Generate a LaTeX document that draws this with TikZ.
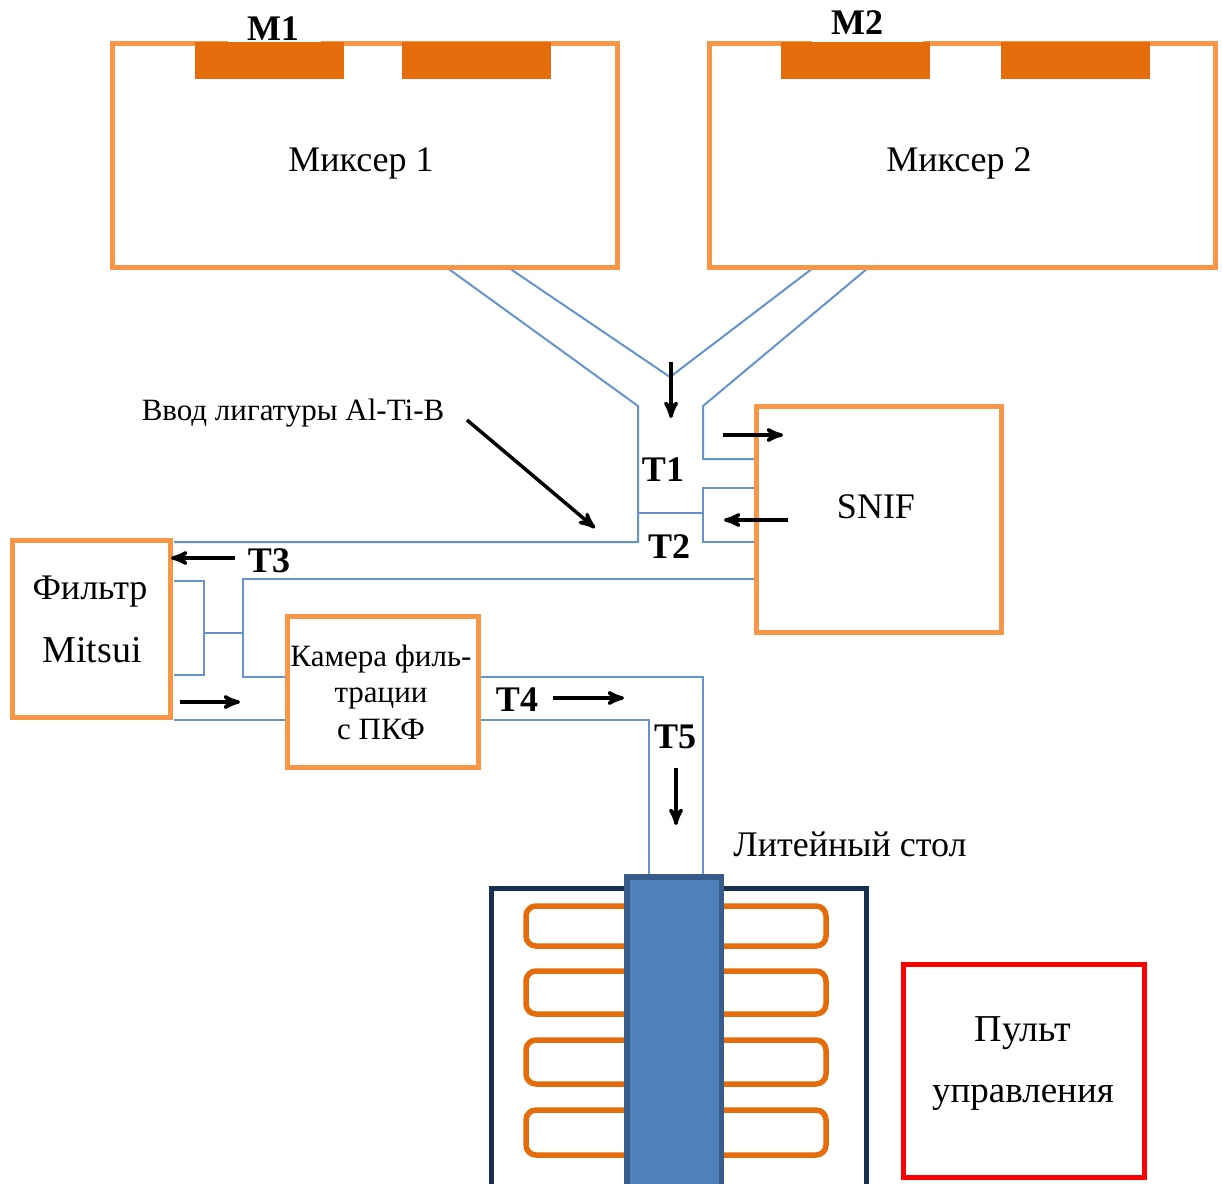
\documentclass[tikz,border=0pt]{standalone}
\usepackage{fontspec}
\usepackage{xcolor}
\setmainfont{Liberation Serif}
\usetikzlibrary{arrows,shapes}

\definecolor{boxorange}{HTML}{F79646}
\definecolor{padorange}{HTML}{E46C0A}
\definecolor{pipeblue}{HTML}{6593CD}
\definecolor{darknavy}{HTML}{17304F}
\definecolor{columnblue}{HTML}{4F81BD}
\definecolor{columnedge}{HTML}{385D8A}

\tikzset{
    box/.style={draw=boxorange, line width=2.5pt, inner sep=0pt, outer sep=0pt},
    pad/.style={fill=padorange, inner sep=0pt, outer sep=0pt, minimum width=74.5pt, minimum height=18.5pt, anchor=north west},
    mask/.style={fill=white, inner sep=0pt, outer sep=0pt, minimum height=3pt},
    coil/.style={draw=padorange, line width=2.75pt, rounded corners=5pt, inner sep=0pt, outer sep=0pt, minimum width=150pt},
    pipe/.style={draw=pipeblue, line width=1pt},
    flow/.style={-stealth', line width=1.75pt, black},
    txt/.style={font=\fontsize{18}{20}\selectfont, inner sep=0pt},
    large/.style={font=\fontsize{19}{20}\selectfont, inner sep=0pt},
    small/.style={font=\fontsize{15.5}{18}\selectfont, inner sep=0pt},
    tag/.style={font=\fontsize{18}{20}\selectfont\bfseries, inner sep=0pt}
}

\begin{document}
\begin{tikzpicture}[x=0.5pt, y=-0.5pt]
    \clip (0,0) rectangle (1222,1184);

    % pipes
    \coordinate (a1) at (446,267);
    \coordinate (a2) at (638,406);
    \coordinate (a3) at (638,542);
    \coordinate (a4) at (174,542);
    \coordinate (b1) at (509,268);
    \coordinate (b2) at (670,377);
    \coordinate (b3) at (813,268);
    \coordinate (c1) at (868,268);
    \coordinate (c2) at (703,406);
    \coordinate (c3) at (703,459);
    \coordinate (c4) at (755,459);
    \coordinate (d1) at (755,488);
    \coordinate (d2) at (703,488);
    \coordinate (d3) at (703,542);
    \coordinate (d4) at (755,542);
    \coordinate (e1) at (638,513);
    \coordinate (e2) at (703,513);
    \coordinate (f1) at (755,579);
    \coordinate (f2) at (243,579);
    \coordinate (f3) at (243,677);
    \coordinate (f4) at (285,677);
    \coordinate (g1) at (174,581);
    \coordinate (g2) at (204,581);
    \coordinate (g3) at (204,675);
    \coordinate (g4) at (174,675);
    \coordinate (h1) at (204,633);
    \coordinate (h2) at (243,633);
    \coordinate (i1) at (174,720);
    \coordinate (i2) at (285,720);
    \coordinate (j1) at (481,677);
    \coordinate (j2) at (703,677);
    \coordinate (j3) at (703,878);
    \coordinate (k1) at (481,720);
    \coordinate (k2) at (649,720);
    \coordinate (k3) at (649,878);

    \draw[pipe] (a1) -- (a2) -- (a3) -- (a4);
    \draw[pipe] (b1) -- (b2) -- (b3);
    \draw[pipe] (c1) -- (c2) -- (c3) -- (c4);
    \draw[pipe] (d1) -- (d2) -- (d3) -- (d4);
    \draw[pipe] (e1) -- (e2);
    \draw[pipe] (f1) -- (f2) -- (f3) -- (f4);
    \draw[pipe] (g1) -- (g2) -- (g3) -- (g4);
    \draw[pipe] (h1) -- (h2);
    \draw[pipe] (i1) -- (i2);
    \draw[pipe] (j1) -- (j2) -- (j3);
    \draw[pipe] (k1) -- (k2) -- (k3);

    % units
    \node[box, minimum width=252.5pt, minimum height=112pt] (mix1) at (364.5,155) {};
    \node[box, minimum width=252.75pt, minimum height=112pt] (mix2) at (962.5,155) {};
    \node[box, minimum width=122.5pt, minimum height=113pt] (snif) at (878.5,519.5) {};
    \node[box, minimum width=79.25pt, minimum height=88.75pt] (filter) at (91.5,629) {};
    \node[box, minimum width=95.5pt, minimum height=75.5pt] (chamber) at (382.5,691.5) {};
    \node[box, draw=red, minimum width=120.5pt, minimum height=106.5pt] (panel) at (1023.5,1071) {};

    % casting table
    \node[draw=darknavy, line width=2.75pt, inner sep=0pt, outer sep=0pt, minimum width=187.5pt, minimum height=170pt, anchor=north west] (table) at (491.5,888.5) {};
    \foreach \ytop/\hgt/\name in {906/20/c1, 971/21.5/c2, 1040/22/c3, 1110/22.5/c4} {
        \node[coil, minimum height=\hgt pt, anchor=north west] (coil\name) at (526,\ytop) {};
    }
    \node[draw=columnedge, fill=columnblue, line width=2.75pt, inner sep=0pt, outer sep=0pt, minimum width=47.25pt, minimum height=170pt, anchor=north west] (column) at (627,877) {};

    % breaks in the top lines, under the labels
    \node[mask, minimum width=46.5pt] (gap1) at (274.5,40) {};
    \node[mask, minimum width=55.5pt] (gap2) at (867.5,40) {};
    \foreach \xpad/\name in {195/p1, 402/p2, 781/p3, 1001/p4} {
        \node[pad] (\name) at (\xpad,42) {};
    }

    % texts
    \node[txt] (t1) at (361,163) {Миксер 1};
    \node[txt] (t2) at (959,163) {Миксер 2};
    \node[small] (t3) at (293,413) {Ввод лигатуры Al-Ti-B};
    \node[txt] (t4) at (876,507) {SNIF};
    \node[txt] (t5) at (90,592) {Фильтр};
    \node[large] (t6) at (92,650) {Mitsui};
    \node[small] (t7) at (381,659) {Камера филь-};
    \node[small] (t8) at (381,698) {трации};
    \node[small] (t9) at (381,729) {с ПКФ};
    \node[txt] (t10) at (850,844) {Литейный стол};
    \node[large] (t11) at (1023,1033) {Пульт};
    \node[font=\fontsize{18.5}{20}\selectfont, inner sep=0pt] (t12) at (1023,1098) {управления};
    \node[tag] (m1) at (273,29) {M1};
    \node[tag] (m2) at (857,23) {M2};
    \node[tag] (T1) at (663,470) {T1};
    \node[tag] (T2) at (669,547) {T2};
    \node[tag] (T3) at (269,561) {T3};
    \node[tag] (T4) at (517,700) {T4};
    \node[tag] (T5) at (675,737) {T5};

    % flow arrows
    \foreach \name/\xa/\ya/\xb/\yb in {u1/671/362/671/418, u2/723/435/783/435, u3/788/520/724/520, u4/235/558/171/558,
        u5/180/702/240/702, u6/553/698/624/698, u7/676/768/676/825, u8/467/420/595/528} {
        \coordinate (\name s) at (\xa,\ya);
        \coordinate (\name e) at (\xb,\yb);
        \draw[flow] (\name s) -- (\name e);
    }
\end{tikzpicture}
\end{document}
